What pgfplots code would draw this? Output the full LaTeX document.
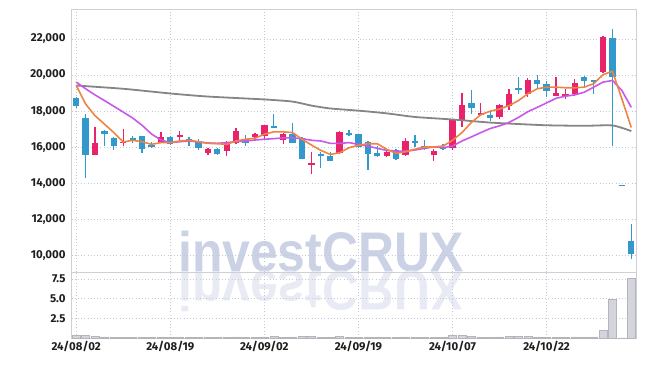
\documentclass[border=0pt]{standalone}
\usepackage{fontspec}
\setmainfont{Fira Sans}
\newfontfamily\wmfont{Liberation Sans}
\usepackage{pgfplots}
\usepackage{pgfplotstable}
\pgfplotsset{compat=1.18}
\definecolor{upc}{HTML}{E8236C}
\definecolor{dnc}{HTML}{3399CC}
\definecolor{maA}{HTML}{EE8444}
\definecolor{maB}{HTML}{C858E8}
\definecolor{maC}{HTML}{858585}
\definecolor{gridc}{HTML}{C4C8DA}
\definecolor{framec}{HTML}{CFCFD4}
\definecolor{volc}{HTML}{D4D4DC}
\definecolor{wm}{HTML}{CBD2E5}
\definecolor{wmr}{HTML}{E8EBF3}
\definecolor{labc}{HTML}{1E1E1E}

\pgfplotstableread{
i o h l c
2 15600 17100 15550 16250
5 16250 17000 16050 16300
9 16300 16850 16250 16550
11 16600 16900 16350 16700
14 15700 15950 15600 15900
16 15800 16350 15500 16300
17 16250 17050 16200 16900
19 16550 16800 16350 16750
20 16600 17250 16450 17250
22 16400 16800 16200 16750
25 15000 15750 14500 15150
28 15700 16900 15650 16850
33 15500 15800 15450 15750
35 15550 16500 15500 16350
38 15550 15900 15250 15800
40 15950 17550 15850 17500
41 17500 19000 17150 18350
43 17800 18450 17750 17900
45 17700 18400 17550 18350
46 18300 19250 18050 18950
48 18950 19850 18800 19750
51 18850 19900 18850 19000
52 18850 19250 18650 18950
53 18950 19800 18850 19550
56 20150 22150 20100 22100
}\upT

\pgfplotstableread{
i o h l c
0 18750 18800 18200 18300
1 17650 17850 14300 15600
3 16900 16950 16050 16750
4 16500 16550 15850 16050
6 16500 16650 16250 16350
7 16600 16650 15700 15900
8 16150 16300 15950 16050
10 16550 16600 16150 16200
12 16450 16550 16050 16350
13 16350 16450 15850 15950
15 15900 15950 15600 15650
18 16450 16700 16100 16250
21 17200 17850 17050 17100
23 16750 17350 16250 16250
24 16500 16550 15350 15350
26 15650 15750 14850 15500
27 15500 15750 15250 15250
29 16800 16950 16650 16700
30 16750 16750 15950 16000
31 16300 16350 14750 15650
32 15700 16100 15450 15500
34 15850 15900 15300 15350
36 16350 16700 16000 16250
37 16100 16400 15850 16000
39 16000 16200 15850 15950
42 18450 19200 17850 18200
44 17800 18000 17450 17600
47 19300 19900 18950 19150
49 19750 20000 19250 19500
50 19500 19650 18800 19100
54 19900 19950 19300 19650
55 19700 19750 18950 19600
57 22050 22550 16050 19900
58 13930 13930 13870 13870
59 10800 11750 9800 10100
}\dnT

\pgfplotstableread{
i v
0 19425
1 18400
2 17750
3 17285
4 16815
5 16296
6 16390
7 16310
8 16165
9 16260
10 16260
11 16350
12 16390
13 16310
14 16220
15 16200
16 16165
17 16350
18 16447
19 16500
20 16725
21 16855
22 16855
23 16815
24 16447
25 16130
26 15830
27 15606
28 15700
29 15980
30 16110
31 16200
32 16200
33 15890
34 15665
35 15755
36 15890
37 16020
38 16020
39 16070
40 16390
41 16815
42 17375
43 17804
44 18000
45 18120
46 18307
47 18586
48 18960
49 19240
50 19330
51 19330
52 19296
53 19296
54 19330
55 19520
56 20022
57 20207
58 18680
59 17095
}\maAT

\pgfplotstableread{
i v
0 19610
1 19240
2 18900
3 18590
4 18270
5 17950
6 17620
7 17220
8 16740
9 16405
10 16260
11 16310
12 16350
13 16296
14 16240
15 16220
16 16260
17 16313
18 16350
19 16405
20 16447
21 16480
22 16520
23 16520
24 16480
25 16390
26 16350
27 16220
28 16220
29 16260
30 16165
31 16070
32 15943
33 15830
34 15793
35 15793
36 15850
37 15943
38 16020
39 15980
40 16070
41 16350
42 16575
43 16815
44 17040
45 17190
46 17375
47 17653
48 17970
49 18212
50 18458
51 18715
52 18827
53 18905
54 19050
55 19330
56 19610
57 19700
58 19145
59 18212
}\maBT

\pgfplotstableread{
i v
0 19420
5 19240
10 18980
14 18810
20 18650
23 18530
25 18310
27 18150
30 18030
33 17880
36 17680
40 17540
44 17370
47 17290
50 17220
54 17190
57 17210
59 16900
}\maCT

\pgfplotstableread{
i v
0 0.35
1 0.3
2 0.2
3 0.15
4 0.12
5 0.1
6 0.1
7 0.12
8 0.1
9 0.15
10 0.12
11 0.1
12 0.1
13 0.1
14 0.08
15 0.1
16 0.12
17 0.15
18 0.1
19 0.1
20 0.15
21 0.2
22 0.12
23 0.15
24 0.2
25 0.2
26 0.12
27 0.1
28 0.18
29 0.1
30 0.12
31 0.15
32 0.1
33 0.08
34 0.1
35 0.15
36 0.1
37 0.08
38 0.1
39 0.1
40 0.3
41 0.35
42 0.25
43 0.12
44 0.1
45 0.15
46 0.2
47 0.25
48 0.2
49 0.15
50 0.12
51 0.1
52 0.08
53 0.15
54 0.12
55 0.15
56 1.0
57 4.9
58 0.02
59 7.6
}\volT

\pgfplotsset{
  base/.style={
    scale only axis, width=564.5bp, xmin=-0.5, xmax=59.5,
    axis line style={draw=framec, line width=1bp},
    major tick length=0pt,
    grid=major, grid style={draw=gridc, line width=0.7bp, dash pattern=on 1bp off 2.2bp},
    tick label style={font=\bfseries\fontsize{11.5}{14}\selectfont, text=labc},
    yticklabel style={xshift=-2.5bp},
    /pgf/number format/assume math mode=true,
    xtick={0,10,20,30,40,50},
  },
  body/.style={draw=none, mark=none, mark size=0pt, forget plot,
    error bars/.cd, y dir=both, y explicit, error mark=none,
    error bar style={draw=#1, line width=6.3bp, line cap=butt, solid}},
  wick/.style={draw=none, mark=none, mark size=0pt, forget plot,
    error bars/.cd, y dir=plus, y explicit, error mark=none,
    error bar style={draw=#1, line width=1.3bp, line cap=butt, solid}},
}

\begin{document}
\begin{tikzpicture}
\path[use as bounding box] (-71.5bp,-28bp) rectangle (573.5bp,338bp);
% watermark
\node[anchor=base west, inner sep=0, text=wm, font=\wmfont\bfseries\fontsize{50}{50}\selectfont, yscale=1.12, transform shape] at (106.5bp,66bp) {investCRUX};
\node[anchor=base west, inner sep=0, text=wmr, font=\wmfont\bfseries\fontsize{50}{50}\selectfont, yscale=-1.12, transform shape] at (106.5bp,66bp) {investCRUX};

\begin{axis}[base, at={(0,66bp)}, anchor=south west, height=262bp,
  ymin=9100, ymax=23600, ytick={10000,12000,14000,16000,18000,20000,22000},
  scaled y ticks=false, xticklabels={},
  yticklabel style={/pgf/number format/.cd, fixed, 1000 sep={,}}]
\addplot [wick=upc] table [x=i, y=l, y error expr={\thisrow{h}-\thisrow{l}}] {\upT};
\addplot [wick=dnc] table [x=i, y=l, y error expr={\thisrow{h}-\thisrow{l}}] {\dnT};
\addplot [body=upc] table [x=i, y expr={(\thisrow{o}+\thisrow{c})/2}, y error expr={abs(\thisrow{c}-\thisrow{o})/2}] {\upT};
\addplot [body=dnc] table [x=i, y expr={(\thisrow{o}+\thisrow{c})/2}, y error expr={abs(\thisrow{c}-\thisrow{o})/2}] {\dnT};
\addplot [maC, line width=1.8bp, smooth, tension=0.4, mark=none] table [x=i, y=v] {\maCT};
\addplot [maB, line width=1.6bp, mark=none] table [x=i, y=v] {\maBT};
\addplot [maA, line width=1.6bp, mark=none] table [x=i, y=v] {\maAT};
\end{axis}

\begin{axis}[base, at={(0,0)}, anchor=south west, height=66bp,
  ymin=0, ymax=8.4, ytick={2.5,5,7.5},
  yticklabel style={/pgf/number format/.cd, fixed, fixed zerofill, precision=1},
  xticklabels={24/08/02,24/08/19,24/09/02,24/09/19,24/10/07,24/10/22}]
\addplot [ybar, bar width=8bp, fill=volc, draw=volc!85!black, line width=0.4bp] table [x=i, y=v] {\volT};
\node[rotate=90, font=\fontsize{11.5}{13}\selectfont, text=labc] at (axis description cs:-0.073,0.5) {$10^6$};
\end{axis}
\end{tikzpicture}
\end{document}
